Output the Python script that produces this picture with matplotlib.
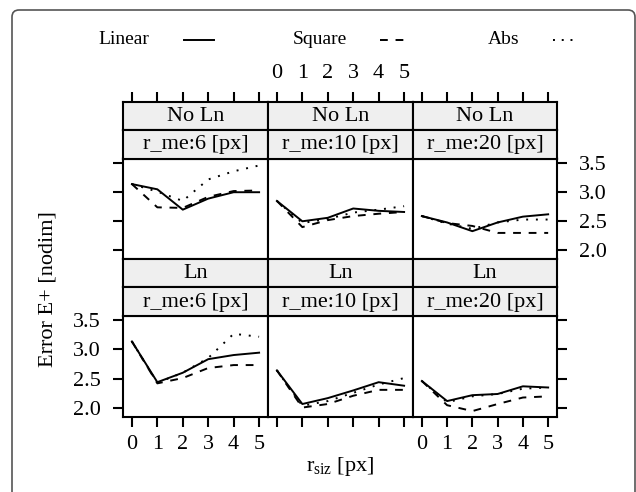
import matplotlib
matplotlib.use("Agg")
import matplotlib.pyplot as plt
from matplotlib.patches import FancyBboxPatch
from matplotlib.lines import Line2D
from matplotlib.transforms import IdentityTransform

plt.rcParams['font.family'] = ['Liberation Serif', 'DejaVu Serif']
plt.rcParams['mathtext.fontset'] = 'custom'
plt.rcParams['mathtext.rm'] = 'Liberation Serif'
plt.rcParams['mathtext.it'] = 'Liberation Serif:italic'

r_siz = [0, 1, 2, 3, 4, 5]
rows = ['No Ln', 'Ln']
r_me = [6, 10, 20]
methods = ['Linear', 'Square', 'Abs']

no_ln_6_linear = [3.13, 3.04, 2.69, 2.88, 2.99, 2.99]
no_ln_6_square = [3.13, 2.73, 2.72, 2.91, 3.01, 3.02]
no_ln_6_abs = [3.13, 3.00, 2.84, 3.21, 3.35, 3.45]

no_ln_10_linear = [2.84, 2.49, 2.55, 2.71, 2.67, 2.65]
no_ln_10_square = [2.84, 2.39, 2.51, 2.58, 2.62, 2.65]
no_ln_10_abs = [2.84, 2.46, 2.53, 2.64, 2.69, 2.75]

no_ln_20_linear = [2.58, 2.47, 2.32, 2.47, 2.57, 2.61]
no_ln_20_square = [2.58, 2.46, 2.41, 2.29, 2.29, 2.29]
no_ln_20_abs = [2.58, 2.45, 2.36, 2.47, 2.52, 2.52]

ln_6_linear = [3.13, 2.44, 2.60, 2.83, 2.90, 2.94]
ln_6_square = [3.13, 2.42, 2.51, 2.68, 2.73, 2.73]
ln_6_abs = [3.13, 2.43, 2.60, 2.85, 3.26, 3.21]

ln_10_linear = [2.64, 2.07, 2.17, 2.30, 2.44, 2.38]
ln_10_square = [2.64, 2.01, 2.07, 2.21, 2.31, 2.31]
ln_10_abs = [2.64, 2.04, 2.12, 2.26, 2.40, 2.51]

ln_20_linear = [2.46, 2.12, 2.22, 2.24, 2.37, 2.35]
ln_20_square = [2.46, 2.05, 1.95, 2.07, 2.18, 2.20]
ln_20_abs = [2.46, 2.10, 2.20, 2.24, 2.33, 2.35]

data = {
    ('No Ln', 6): [no_ln_6_linear, no_ln_6_square, no_ln_6_abs],
    ('No Ln', 10): [no_ln_10_linear, no_ln_10_square, no_ln_10_abs],
    ('No Ln', 20): [no_ln_20_linear, no_ln_20_square, no_ln_20_abs],
    ('Ln', 6): [ln_6_linear, ln_6_square, ln_6_abs],
    ('Ln', 10): [ln_10_linear, ln_10_square, ln_10_abs],
    ('Ln', 20): [ln_20_linear, ln_20_square, ln_20_abs],
}

W, H = 636, 492
fig = plt.figure(figsize=(W / 100, H / 100), dpi=100)


def rect(x0, y0, x1, y1):
    return [x0 / W, 1 - y1 / H, (x1 - x0) / W, (y1 - y0) / H]


col_x = [(123, 268), (268, 413), (413, 557)]
# strip1 top, strip2 top, plot top, plot bottom
row_y = [(101.5, 129.5, 158.5, 258.5), (258.5, 287, 315.5, 417)]
styles = [dict(ls='-'), dict(ls=(0, (4, 4))), dict(ls=(0, (1, 4)))]
XLIM = (-0.35, 5.35)
YLIM = (1.85, 3.57)
FS = 16
BW = 1.5
strip_bg = '#efefef'

for i, row in enumerate(rows):
    y0, y1, y2, y3 = row_y[i]
    for j, rm in enumerate(r_me):
        x0, x1 = col_x[j]
        ax = fig.add_axes(rect(x0, y2, x1, y3))
        for vals, st in zip(data[(row, rm)], styles):
            ax.plot(r_siz, vals, color='black', lw=1.4, **st)
        ax.set_xlim(XLIM)
        ax.set_ylim(YLIM)
        ax.set_xticks(r_siz)
        ax.set_yticks([2.0, 2.5, 3.0, 3.5])
        ax.set_yticklabels(['2.0', '2.5', '3.0', '3.5'])
        ax.tick_params(direction='out', length=7, width=BW, labelsize=FS,
                       top=False, bottom=(i == 1),
                       labelbottom=(i == 1 and j != 1),
                       left=(j == 0), labelleft=(i == 1 and j == 0),
                       right=(j == 2), labelright=(i == 0 and j == 2),
                       pad=9)
        ax.tick_params(axis='x', pad=6)
        for sp in ax.spines.values():
            sp.set_linewidth(BW)

        for (sa, sb, txt, k) in [(y0, y1, row, 0), (y1, y2, 'r_me:%d [px]' % rm, 1)]:
            s = fig.add_axes(rect(x0, sa, x1, sb))
            s.set_facecolor(strip_bg)
            s.set_xlim(XLIM)
            s.set_ylim(0, 1)
            s.text(2.5, 0.47, txt, ha='center', va='center', fontsize=FS)
            s.set_yticks([])
            if i == 0 and k == 0:
                s.set_xticks(r_siz)
                s.tick_params(direction='out', length=7, width=BW, labelsize=FS,
                              top=True, bottom=False, labeltop=(j == 1),
                              labelbottom=False, pad=6)
            else:
                s.set_xticks([])
            for sp in s.spines.values():
                sp.set_linewidth(BW)

# axis labels
fig.text(48 / W, 1 - 289 / H, 'Error E+ [nodim]', rotation=90,
         ha='center', va='center', fontsize=FS)
fig.text(340 / W, 1 - 467 / H, r'r$_{\mathrm{siz}}$ [px]',
         ha='center', va='center', fontsize=FS)

# legend (key)
key_y = 1 - 39 / H
key_text = [124, 320, 504]
key_line = [(184, 214), (380, 404), (553, 578)]
key_ls = ['-', (0, (4, 4)), (0, (1, 3.5))]
for name, tx, (lx0, lx1), ls in zip(methods, key_text, key_line, key_ls):
    fig.text(tx / W, key_y, name, ha='center', va='center', fontsize=14)
    fig.add_artist(Line2D([lx0 / W, lx1 / W], [1 - 40 / H, 1 - 40 / H],
                          transform=fig.transFigure, color='black',
                          lw=1.4, ls=ls))

# rounded border around the figure
border = FancyBboxPatch((12, -30), 623, 512,
                        boxstyle='round,pad=0,rounding_size=7',
                        transform=IdentityTransform(), fill=False,
                        edgecolor='#555555', lw=1.2)
fig.add_artist(border)

fig.savefig('out.png', dpi=100)
